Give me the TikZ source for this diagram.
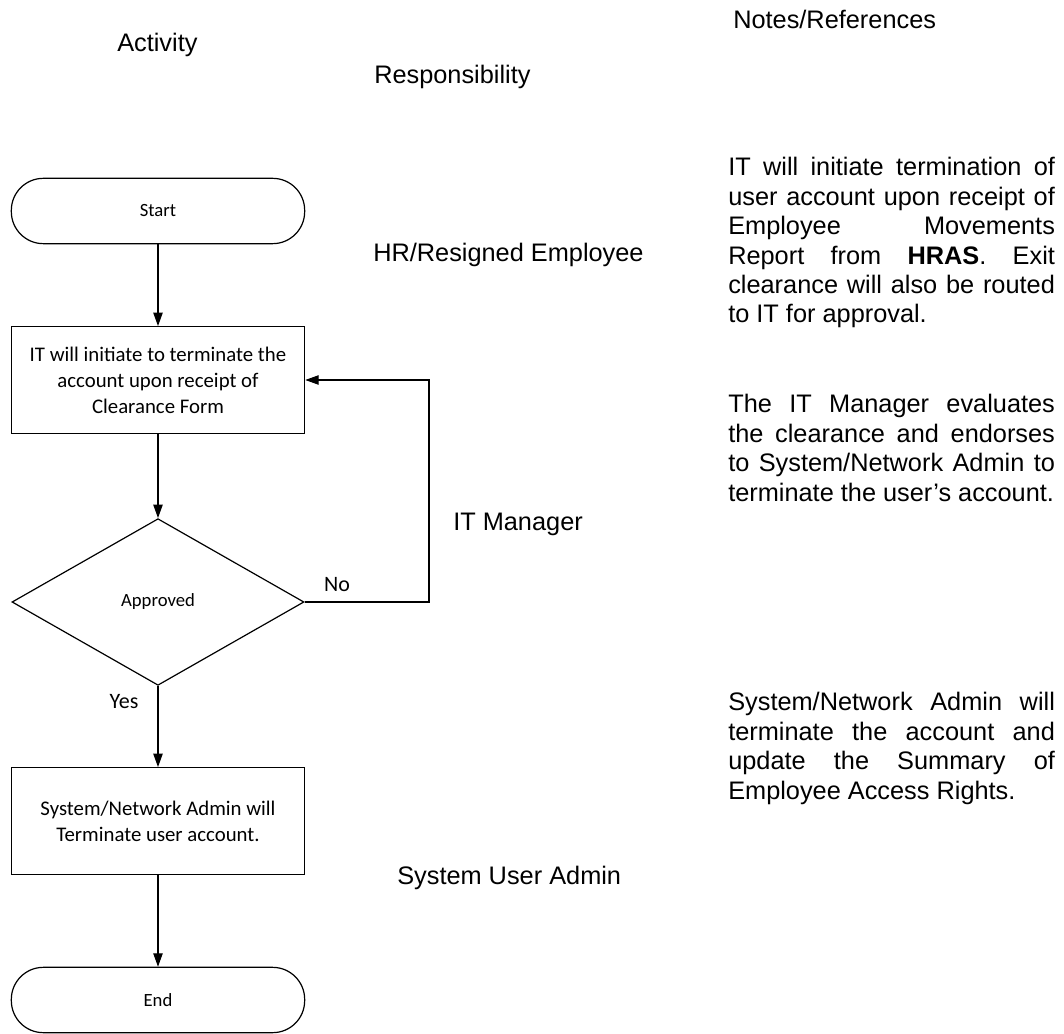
\documentclass[tikz,border=0pt]{standalone}
\usepackage{fontspec}
\setmainfont{Liberation Sans}
\newfontfamily\flowfont{Carlito}
\usetikzlibrary{arrows.meta,shapes.geometric}
\hyphenpenalty=10000
\tolerance=10000
\frenchspacing
\tikzset{>={Triangle[length=10pt,width=7pt]},
  term/.style={draw,line width=0.9pt,rounded corners=24pt,minimum width=220pt,minimum height=49pt,inner sep=0pt,font=\flowfont\fontsize{14}{17}\selectfont},
  proc/.style={draw,line width=0.9pt,minimum width=220pt,minimum height=80pt,inner sep=0pt,align=center,font=\flowfont\fontsize{15.6}{19.5}\selectfont},
  decide/.style={draw,diamond,line width=0.9pt,minimum width=219pt,minimum height=125pt,inner sep=0pt,font=\flowfont\fontsize{14}{17}\selectfont},
  flow/.style={->,line width=0.8pt},
  yn/.style={inner sep=0pt,font=\flowfont\fontsize{16.5}{20}\selectfont},
  lab/.style={anchor=base west,inner sep=0pt,font=\fontsize{19}{22}\selectfont},
  note/.style={anchor=north west,inner sep=0pt,text width=245pt,align=justify,font=\fontsize{19}{22.1}\selectfont},
}

\begin{document}
\begin{tikzpicture}[x=0.75pt,y=-0.75pt]
  \useasboundingbox (0,0) rectangle (1064,1034);
  % column headings
  \node[lab] (hact)  at (117,52) {Activity};
  \node[lab] (hresp) at (374,84) {Responsibility};
  \node[lab] (hnote) at (733,29) {Notes/References};

  % activity column
  \node[term]   (start) at (158,211) {Start};
  \node[proc]   (init)  at (158,380) {IT will initiate to terminate the\\account upon receipt of\\Clearance Form};
  \node[decide] (appr)  at (158,602) {Approved};
  \node[proc]   (admin) at (158,821) {System/Network Admin will\\Terminate user account.};
  \node[term]   (stop)  at (158,1000) {End};

  \draw[flow] (start) -- (init);
  \draw[flow] (init) -- (appr);
  \draw[flow] (appr) -- (admin);
  \draw[flow] (admin) -- (stop);
  \coordinate (back) at (429,602);
  \draw[flow] (appr.east) -- (back) |- (init.east);
  \node[yn] (no)  at (337,585) {No};
  \node[yn] (yes) at (124,702) {Yes};

  % responsibility column
  \node[lab] (rhr)  at (373,262) {HR/Resigned Employee};
  \node[lab] (rit)  at (453,530) {IT Manager};
  \node[lab] (rsys) at (397,884) {System User Admin};

  % notes column
  \node[note] (n1) at (728,157) {IT will initiate termination of user account upon receipt of\linebreak Employee Movements\linebreak Report from \textbf{HRAS}. Exit clearance will also be routed to IT for approval.};
  \node[note] (n2) at (728,394) {The IT Manager evaluates the clearance and endorses to System/Network Admin to terminate the user's account.};
  \node[note] (n3) at (728,692) {System/Network Admin will terminate the account and update the Summary of Employee Access Rights.};
\end{tikzpicture}
\end{document}
